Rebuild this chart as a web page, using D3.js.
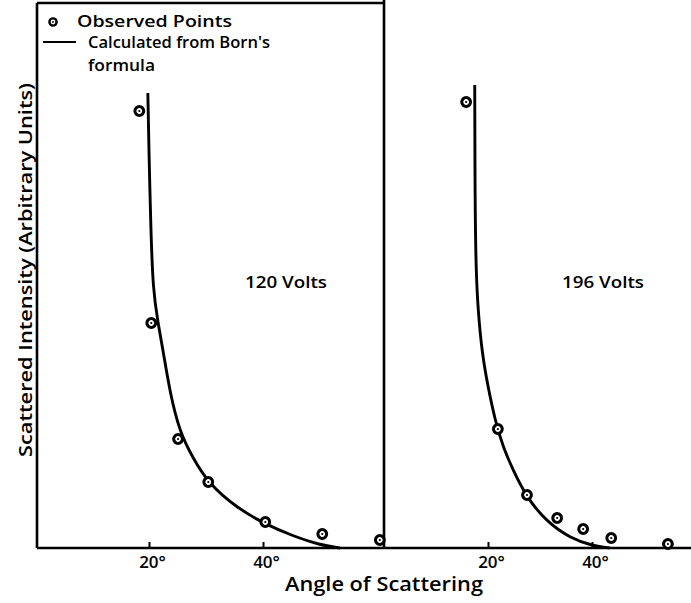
<!DOCTYPE html>
<html>
<head>
<meta charset="utf-8">
<script src="https://cdn.jsdelivr.net/npm/d3@7"></script>
<style>
  html, body { margin: 0; padding: 0; background: #fff; }
  svg { display: block; }
  text { font-family: "Open Sans", "DejaVu Sans", sans-serif; fill: #000; font-weight: 600; }
</style>
</head>
<body>
<div id="chart"></div>
<script>
// ---- data (angle in degrees, intensity in arbitrary units) ----
const panels = ["120 Volts", "196 Volts"];

const obs120Angle = [18.3, 20.4, 25.1, 30.4, 40.4, 50.4, 60.5];
const obs120Int   = [87.4, 45.0, 21.8, 13.2, 5.2, 2.8, 1.6];

const calc120Angle = [19.8, 19.98, 20.33, 20.7, 21.58, 22.46, 23.68, 25.44, 27.72, 30.35, 35.44, 40.35, 45.26, 50.0, 53.51];
const calc120Int   = [91.0, 79.6, 63.6, 51.6, 45.0, 39.6, 31.0, 23.0, 18.0, 13.0, 8.0, 4.8, 2.4, 0.6, 0.0];

const obs196Angle = [15.8, 21.9, 27.5, 33.3, 38.3, 43.7, 54.6];
const obs196Int   = [89.2, 23.8, 10.6, 6.0, 3.8, 2.0, 0.8];

const calc196Angle = [17.45, 17.5, 17.69, 18.08, 18.85, 20.0, 21.35, 22.88, 24.81, 27.5, 31.35, 35.77, 40.19, 43.46];
const calc196Int   = [92.6, 69.6, 55.6, 47.6, 39.0, 32.2, 25.6, 20.2, 15.6, 10.0, 5.2, 2.0, 0.4, 0.0];

const tickValues = [20, 40];
const tickLabels = ["20°", "40°"];

const legendLabels = ["Observed Points", "Calculated from Born's", "formula"];
const xTitle = "Angle of Scattering";
const yTitle = "Scattered Intensity (Arbitrary Units)";

// ---- drawing ----
const W = 691, H = 603;
const svg = d3.select("#chart").append("svg").attr("width", W).attr("height", H);
svg.append("rect").attr("width", W).attr("height", H).attr("fill", "#fff");

const base = 548, leftX = 37, divX = 384, topY = 3;
const y = d3.scaleLinear().domain([0, 100]).range([base, 48]);
const xL = d3.scaleLinear().domain([0, 60]).range([35, 377]);
const xR = d3.scaleLinear().domain([0, 60]).range([384, 696]);

// frame
const frame = svg.append("g").attr("stroke", "#000").attr("stroke-width", 2.6).attr("fill", "none");
frame.append("line").attr("x1", leftX).attr("x2", W).attr("y1", base).attr("y2", base);
frame.append("line").attr("x1", leftX).attr("x2", leftX).attr("y1", topY).attr("y2", base);
frame.append("line").attr("x1", divX).attr("x2", divX).attr("y1", 0).attr("y2", base);
frame.append("line").attr("x1", leftX).attr("x2", divX).attr("y1", topY).attr("y2", topY);

function drawPanel(x, angles, ints, cAngles, cInts, label, labelX, labelY) {
  const g = svg.append("g");
  const axis = d3.axisBottom(x).tickValues(tickValues)
    .tickSize(-6).tickPadding(8)
    .tickFormat((d, i) => tickLabels[i]);
  const ag = g.append("g").attr("transform", `translate(0,${base})`).call(axis);
  ag.select(".domain").remove();
  ag.selectAll(".tick line").attr("stroke", "#000").attr("stroke-width", 2);
  ag.selectAll(".tick text").attr("font-size", 17).attr("dx", 3)
    .attr("font-family", "\"Open Sans\", sans-serif").attr("font-weight", 600).attr("fill", "#000");

  const curve = cAngles.map((a, i) => [a, cInts[i]]);
  const line = d3.line().x(d => x(d[0])).y(d => y(d[1])).curve(d3.curveBasis);
  g.append("path").datum(curve).attr("d", line)
    .attr("fill", "none").attr("stroke", "#000").attr("stroke-width", 2.9);

  const pts = angles.map((a, i) => [a, ints[i]]);
  const pg = g.selectAll("g.pt").data(pts).join("g").attr("class", "pt")
    .attr("transform", d => `translate(${x(d[0])},${y(d[1])})`);
  pg.append("circle").attr("r", 4.4).attr("fill", "#fff").attr("stroke", "#000").attr("stroke-width", 3);
  pg.append("circle").attr("r", 1.1).attr("fill", "#000");

  g.append("text").attr("x", labelX).attr("y", labelY).attr("font-size", 16)
    .attr("textLength", 82).attr("lengthAdjust", "spacingAndGlyphs").text(label);
}

drawPanel(xL, obs120Angle, obs120Int, calc120Angle, calc120Int, panels[0], 245, 288);
drawPanel(xR, obs196Angle, obs196Int, calc196Angle, calc196Int, panels[1], 562, 288);

// legend
const lg = svg.append("g");
const lm = lg.append("g").attr("transform", "translate(53,22)");
lm.append("circle").attr("r", 3.6).attr("fill", "#fff").attr("stroke", "#000").attr("stroke-width", 2.4);
lm.append("circle").attr("r", 0.9).attr("fill", "#000");
lg.append("text").attr("x", 77).attr("y", 27).attr("font-size", 17)
  .attr("textLength", 155).attr("lengthAdjust", "spacingAndGlyphs").text(legendLabels[0]);
lg.append("line").attr("x1", 43).attr("x2", 76).attr("y1", 42).attr("y2", 42)
  .attr("stroke", "#000").attr("stroke-width", 2);
lg.append("text").attr("x", 88).attr("y", 48).attr("font-size", 16.5)
  .attr("textLength", 182).attr("lengthAdjust", "spacingAndGlyphs").text(legendLabels[1]);
lg.append("text").attr("x", 88).attr("y", 71).attr("font-size", 16.5)
  .attr("textLength", 67).attr("lengthAdjust", "spacingAndGlyphs").text(legendLabels[2]);

// titles
svg.append("text").attr("x", 285).attr("y", 591)
  .attr("font-size", 20).attr("textLength", 198).attr("lengthAdjust", "spacingAndGlyphs").text(xTitle);
svg.append("text").attr("transform", "translate(32,457) rotate(-90)")
  .attr("font-size", 18).attr("textLength", 374).attr("lengthAdjust", "spacingAndGlyphs").text(yTitle);
</script>
</body>
</html>
